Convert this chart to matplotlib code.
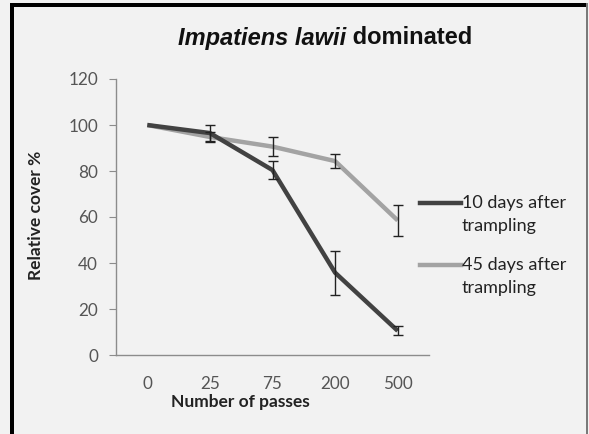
import matplotlib
matplotlib.use("Agg")
import matplotlib.pyplot as plt
from matplotlib.lines import Line2D
from matplotlib.patches import Rectangle
import numpy as np

categories = ["0", "25", "75", "200", "500"]
series_names = ["10 days after\ntrampling", "45 days after\ntrampling"]
days10 = [100, 96.5, 80.4, 35.8, 10.5]
days10_err = [0, 3.5, 4.0, 9.6, 2.0]
days45 = [100, 94.8, 90.6, 84.3, 58.5]
days45_err = [0, 2.0, 4.0, 3.0, 6.6]
yticks = [0, 20, 40, 60, 80, 100, 120]

W, H = 589, 434
fig = plt.figure(figsize=(W / 100, H / 100), dpi=100)
bg = "#f2f2f2"
fig.patch.set_facecolor(bg)

ax = fig.add_axes([116 / W, (H - 355) / H, (429 - 116) / W, (355 - 79) / H])
ax.set_facecolor(bg)

x = np.arange(len(categories))
colors = ["#424242", "#a3a3a3"]
for vals, errs, c in [(days45, days45_err, colors[1]), (days10, days10_err, colors[0])]:
    ax.plot(x, vals, color=c, lw=3.2, solid_capstyle="butt", zorder=2)
    ax.errorbar(x[1:], vals[1:], yerr=errs[1:], fmt="none", ecolor="#222222",
                elinewidth=1.0, capsize=3.5, capthick=1.0, zorder=3)

ax.set_xlim(-0.5, len(categories) - 0.5)
ax.set_ylim(0, 120)
ax.set_yticks(yticks)
ax.set_xticks(x)
ax.set_xticklabels(categories)
for s in ["top", "right"]:
    ax.spines[s].set_visible(False)
for s in ["left", "bottom"]:
    ax.spines[s].set_color("#8c8c8c")
    ax.spines[s].set_linewidth(1.0)
ax.tick_params(axis="y", length=5, color="#8c8c8c", labelsize=12.3, labelcolor="#555555", pad=8)
ax.tick_params(axis="x", length=0, labelsize=12.3, labelcolor="#555555", pad=15)
for lab in ax.get_xticklabels() + ax.get_yticklabels():
    lab.set_family("Lato")

fig.text(36 / W, 1 - 215 / H, "Relative cover %", rotation=90, ha="center", va="center",
         fontsize=12.5, fontweight="bold", family="Lato", color="#222222")
fig.text(240 / W, 1 - 402 / H, "Number of passes", ha="center", va="center",
         fontsize=12.5, fontweight="bold", family="Lato", color="#222222")

# title in two parts
fig.canvas.draw()
r = fig.canvas.get_renderer()
t1 = fig.text(0, 1 - 38 / H, "Impatiens lawii", fontsize=17, style="italic", fontweight="bold",
              family="Liberation Sans", color="#111111", va="center")
t2 = fig.text(0, 1 - 38 / H, " dominated", fontsize=17, fontweight="bold",
              family="Liberation Sans", color="#111111", va="center")
w1 = t1.get_window_extent(r).width
w2 = t2.get_window_extent(r).width
cx = 325
start = cx - (w1 + w2) / 2
t1.set_x(start / W)
t2.set_x((start + w1) / W)

# legend
leg_y = [203, 265]
for name, c, yy in zip(series_names, colors, leg_y):
    fig.add_artist(Line2D([420 / W, 461 / W], [1 - yy / H, 1 - yy / H], color=c, lw=3.2))
    fig.text(462 / W, 1 - (yy - 8) / H, name, ha="left", va="top", fontsize=13,
             family="Lato", color="#222222", linespacing=1.5)

# frame
fig.add_artist(Rectangle((10 / W, 0), 4 / W, (H - 3) / H, transform=fig.transFigure,
                         color="black", lw=0))
fig.add_artist(Rectangle((10 / W, 1 - 7 / H), (587 - 10) / W, 4 / H, transform=fig.transFigure,
                         color="black", lw=0))
fig.add_artist(Rectangle((586 / W, 0), 2 / W, (H - 3) / H, transform=fig.transFigure,
                         color="#7a7a7a", lw=0))

fig.savefig("out.png", dpi=100, facecolor=bg)
